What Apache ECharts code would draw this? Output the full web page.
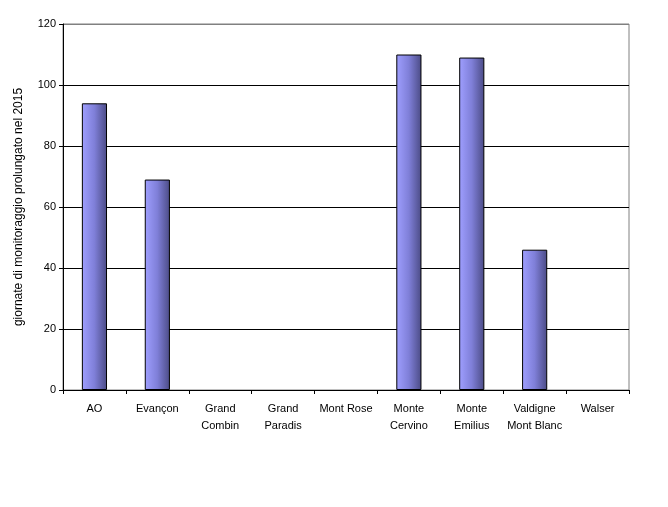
<!DOCTYPE html>
<html><head><meta charset="utf-8">
<script src="https://cdn.jsdelivr.net/npm/echarts@6/dist/echarts.min.js"></script>
<style>html,body{margin:0;padding:0;background:#fff}#c{width:668px;height:507px}</style>
</head><body><div id="c"></div>
<script>
var categories = ['AO', 'Evançon', 'Grand\nCombin', 'Grand\nParadis', 'Mont Rose', 'Monte\nCervino', 'Monte\nEmilius', 'Valdigne\nMont Blanc', 'Walser'];
var values = [94, 69, 0, 0, 0, 110, 109, 46, 0];
var yTicks = [0, 20, 40, 60, 80, 100, 120];
var yTitle = 'giornate di monitoraggio prolungato nel 2015';

var chart = echarts.init(document.getElementById('c'), null, {renderer: 'canvas'});
chart.setOption({
  animation: false,
  backgroundColor: '#ffffff',
  grid: {left: 63, right: 39, top: 24, bottom: 117, show: true, borderColor: '#808080', borderWidth: 1, backgroundColor: 'transparent'},
  xAxis: {
    type: 'category', data: categories, boundaryGap: true,
    axisLine: {lineStyle: {color: '#000', width: 1}},
    axisTick: {show: true, alignWithLabel: false, length: 4, lineStyle: {color: '#000'}},
    axisLabel: {color: '#000', fontFamily: 'Liberation Sans', fontSize: 11, margin: 10, lineHeight: 17, interval: 0}
  },
  yAxis: {
    type: 'value', min: yTicks[0], max: yTicks[yTicks.length - 1], interval: 20,
    name: yTitle, nameLocation: 'middle', nameGap: 38, nameRotate: 90,
    nameTextStyle: {color: '#000', fontFamily: 'Liberation Sans', fontSize: 12},
    axisLine: {show: true, lineStyle: {color: '#000', width: 1}},
    axisTick: {show: true, length: 4, lineStyle: {color: '#000'}},
    axisLabel: {color: '#000', fontFamily: 'Liberation Sans', fontSize: 11, margin: 7},
    splitLine: {show: true, lineStyle: {color: yTicks.map(function (t, i) { return i === yTicks.length - 1 ? '#808080' : '#000'; }), width: 1}}
  },
  series: [{
    type: 'bar', barWidth: '40%', z: 1,
    data: values.map(function (v) {
      return v === 0 ? {value: v, itemStyle: {opacity: 0, borderWidth: 0}} : v;
    }),
    itemStyle: {
      borderColor: '#000', borderWidth: 1,
      color: new echarts.graphic.LinearGradient(0, 0, 1, 0, [
        {offset: 0, color: '#9f9fff'},
        {offset: 0.5, color: '#7f7fd8'},
        {offset: 1, color: '#4b4b85'}
      ])
    }
  }]
});
</script></body></html>
